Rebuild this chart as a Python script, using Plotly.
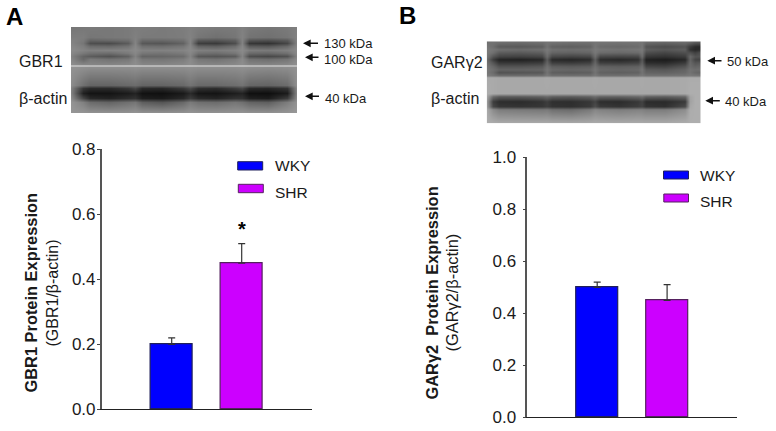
"""Two-panel western blot figure: GBR1 and GARγ2 protein expression."""

import plotly.graph_objects as go

W, H = 776, 431
FONT = "Liberation Sans, Arial, sans-serif"

groups = ["WKY", "SHR"]
bar_colors = ["#0000ff", "#cc00ff"]
bar_edges = ["#20205a", "#55205f"]

gbr1_means = [0.20, 0.45]
gbr1_errs = [0.02, 0.06]
gbr1_ticks = [0.0, 0.2, 0.4, 0.6, 0.8]

garg2_means = [0.50, 0.45]
garg2_errs = [0.02, 0.06]
garg2_ticks = [0.0, 0.2, 0.4, 0.6, 0.8, 1.0]

blot_a_x = [0, 12, 19, 38, 57, 64, 71, 91, 112, 119, 127, 145, 164, 171, 178, 197, 216, 226]
blot_a_y = [0, 10, 13, 16, 19, 23, 26, 29, 32, 38, 40, 58, 61, 66, 71, 75, 86]
blot_a_z = [
    [118, 120, 122, 120, 122, 125, 125, 122, 125, 128, 125, 122, 122, 128, 122, 118, 122, 128],
    [125, 125, 118, 120, 122, 128, 122, 122, 124, 130, 118, 112, 118, 130, 115, 112, 118, 130],
    [130, 122, 100, 105, 110, 130, 105, 105, 112, 132, 88, 85, 95, 130, 85, 80, 90, 132],
    [132, 118, 78, 75, 92, 132, 88, 85, 98, 132, 62, 58, 78, 130, 55, 50, 70, 132],
    [135, 125, 108, 105, 115, 135, 112, 110, 118, 135, 100, 95, 110, 135, 92, 88, 105, 135],
    [138, 132, 128, 130, 132, 138, 130, 130, 132, 138, 128, 125, 130, 138, 125, 122, 128, 138],
    [135, 120, 112, 108, 122, 135, 118, 115, 122, 135, 112, 108, 118, 135, 105, 102, 112, 138],
    [130, 100, 92, 82, 98, 130, 100, 102, 108, 132, 88, 85, 92, 132, 78, 72, 82, 135],
    [135, 105, 122, 115, 120, 138, 120, 118, 125, 138, 120, 115, 125, 138, 115, 110, 118, 140],
    [142, 138, 135, 135, 138, 142, 135, 135, 138, 142, 135, 135, 138, 142, 135, 135, 138, 145],
    [146, 144, 142, 142, 142, 144, 142, 142, 142, 144, 142, 142, 142, 144, 142, 140, 142, 146],
    [140, 112, 100, 100, 105, 108, 100, 100, 105, 115, 105, 105, 110, 115, 102, 100, 108, 145],
    [130, 55, 42, 42, 55, 70, 42, 40, 58, 75, 48, 45, 62, 72, 42, 40, 52, 140],
    [130, 32, 20, 20, 28, 35, 18, 16, 26, 42, 22, 20, 30, 35, 16, 15, 28, 138],
    [138, 70, 40, 34, 45, 50, 30, 26, 40, 60, 42, 36, 50, 50, 32, 28, 60, 142],
    [148, 128, 108, 100, 112, 118, 95, 85, 105, 122, 112, 108, 118, 112, 100, 95, 125, 148],
    [150, 150, 148, 148, 148, 150, 148, 148, 148, 150, 148, 148, 148, 150, 148, 148, 150, 152],
]

blot_b_x = [0, 6, 12, 33, 55, 60, 65, 84, 103, 108, 113, 132, 151, 155, 159, 178, 198, 203, 208, 214]
blot_b_y = [0, 5, 8, 11, 15, 18, 21, 25, 28, 31, 34, 36, 52, 55, 60, 65, 68, 82]
blot_b_z = [
    [112, 115, 115, 112, 115, 118, 118, 115, 115, 118, 118, 118, 118, 118, 112, 108, 112, 110, 100, 95],
    [118, 110, 92, 90, 95, 115, 98, 95, 100, 118, 108, 105, 108, 118, 85, 78, 85, 60, 45, 40],
    [122, 118, 112, 108, 112, 122, 112, 110, 112, 122, 118, 115, 118, 122, 95, 88, 95, 50, 40, 45],
    [122, 112, 92, 90, 95, 118, 100, 98, 102, 120, 108, 105, 108, 118, 78, 70, 80, 80, 65, 80],
    [118, 85, 68, 65, 70, 108, 72, 68, 72, 110, 72, 70, 72, 108, 55, 50, 60, 105, 85, 85],
    [108, 62, 36, 33, 40, 92, 42, 38, 45, 95, 45, 40, 48, 88, 33, 28, 40, 100, 70, 65],
    [112, 85, 55, 55, 60, 100, 62, 58, 65, 102, 62, 60, 66, 95, 45, 42, 58, 105, 85, 90],
    [118, 105, 85, 85, 90, 112, 95, 92, 95, 112, 98, 95, 98, 110, 72, 68, 85, 108, 100, 105],
    [122, 112, 100, 100, 102, 118, 105, 102, 105, 118, 105, 102, 105, 118, 92, 88, 100, 115, 110, 112],
    [120, 108, 82, 85, 88, 115, 95, 92, 95, 115, 98, 95, 98, 115, 100, 98, 105, 115, 105, 100],
    [125, 118, 110, 110, 112, 122, 112, 112, 112, 122, 112, 112, 115, 122, 115, 115, 118, 122, 120, 118],
    [170, 170, 168, 168, 168, 170, 168, 168, 168, 170, 168, 168, 168, 170, 168, 168, 170, 172, 172, 172],
    [174, 170, 168, 168, 168, 168, 168, 168, 168, 168, 168, 168, 168, 168, 168, 168, 170, 174, 174, 174],
    [165, 108, 92, 92, 98, 105, 95, 92, 98, 108, 98, 98, 105, 112, 98, 95, 105, 165, 174, 174],
    [155, 62, 46, 44, 52, 62, 48, 46, 56, 68, 46, 44, 56, 66, 44, 43, 58, 162, 174, 174],
    [158, 72, 55, 52, 55, 62, 52, 48, 58, 78, 58, 52, 62, 68, 52, 48, 75, 168, 174, 174],
    [170, 140, 125, 122, 120, 122, 112, 108, 122, 135, 130, 125, 130, 130, 125, 125, 142, 172, 174, 174],
    [174, 174, 172, 172, 172, 172, 172, 172, 172, 172, 172, 172, 172, 172, 172, 172, 174, 174, 174, 174],
]


def px_x(x):
    return x / W


def px_y(y):
    return 1 - y / H


def label(text, x, y, size, anchor="left", angle=0, bold=False, color="#1a1a1a"):
    # annotations keep about 2px of padding round their text
    left = x - 2 if anchor == "left" else x
    return dict(
        text=f"<b>{text}</b>" if bold else text,
        x=px_x(left),
        y=px_y(y),
        xref="paper",
        yref="paper",
        xanchor=anchor,
        yanchor="middle",
        showarrow=False,
        textangle=angle,
        font=dict(family=FONT, size=size, color=color),
    )


def arrow(x_tip, x_tail, y):
    return dict(
        text="",
        x=px_x(x_tip),
        y=px_y(y),
        xref="paper",
        yref="paper",
        ax=x_tail - x_tip,
        ay=0,
        showarrow=True,
        arrowhead=2,
        arrowsize=1.1,
        arrowwidth=1.4,
        arrowcolor="#111111",
    )


def swatch(x0, x1, y0, y1, fill, edge):
    return dict(
        type="rect",
        xref="paper",
        yref="paper",
        x0=px_x(x0),
        x1=px_x(x1),
        y0=px_y(y0),
        y1=px_y(y1),
        fillcolor=fill,
        line=dict(color=edge, width=1),
    )


fig = go.Figure()

# bar panels
panels = [
    ("x", "y", gbr1_means, gbr1_errs),
    ("x2", "y2", garg2_means, garg2_errs),
]
for xa, ya, means, errs in panels:
    fig.add_trace(
        go.Bar(
            x=groups,
            y=means,
            xaxis=xa,
            yaxis=ya,
            width=0.6,
            marker=dict(color=bar_colors, line=dict(color=bar_edges, width=1.2)),
            error_y=dict(
                type="data",
                array=errs,
                arrayminus=[0, 0],
                symmetric=False,
                color="#333333",
                thickness=1.2,
                width=3.5,
            ),
            showlegend=False,
        )
    )

# blot photographs
blots = [
    ("x3", "y3", blot_a_x, blot_a_y, blot_a_z),
    ("x4", "y4", blot_b_x, blot_b_y, blot_b_z),
]
for xa, ya, bx, by, bz in blots:
    fig.add_trace(
        go.Heatmap(
            x=bx,
            y=by,
            z=bz,
            xaxis=xa,
            yaxis=ya,
            zmin=0,
            zmax=255,
            zsmooth="best",
            colorscale=[[0, "#000000"], [1, "#ffffff"]],
            showscale=False,
            hoverinfo="skip",
        )
    )

y_style = dict(
    tickformat=".1f",
    ticks="outside",
    ticklen=3,
    tickwidth=1.2,
    tickcolor="#444444",
    showline=True,
    linecolor="#555555",
    linewidth=1.5,
    showgrid=False,
    zeroline=False,
    tickfont=dict(family=FONT, size=17, color="#1a1a1a"),
)
x_style = dict(
    type="category",
    range=[-1, 2],
    showticklabels=False,
    ticks="",
    showline=True,
    linecolor="#222222",
    linewidth=1.2,
    showgrid=False,
    zeroline=False,
)
hidden = dict(visible=False, showgrid=False, zeroline=False)

fig.update_layout(
    width=W,
    height=H,
    margin=dict(l=0, r=0, t=0, b=0, autoexpand=False),
    paper_bgcolor="white",
    plot_bgcolor="white",
    autosize=False,
    bargap=0,
    xaxis=dict(x_style, domain=[px_x(101.7), px_x(311.7)], anchor="y"),
    yaxis=dict(
        y_style,
        domain=[px_y(409.3), px_y(149.3)],
        range=[0, 0.8],
        tickvals=gbr1_ticks,
        ticklabelstandoff=-2,
        anchor="x",
    ),
    xaxis2=dict(x_style, domain=[px_x(527.3), px_x(737)], anchor="y2"),
    yaxis2=dict(
        y_style,
        domain=[px_y(417.3), px_y(157.3)],
        range=[0, 1.0],
        tickvals=garg2_ticks,
        ticklabelstandoff=3,
        anchor="x2",
    ),
    xaxis3=dict(hidden, domain=[px_x(71), px_x(297)], range=[0, 226], anchor="y3"),
    yaxis3=dict(hidden, domain=[px_y(113), px_y(27)], range=[86, 0], anchor="x3"),
    xaxis4=dict(hidden, domain=[px_x(486.7), px_x(700.7)], range=[0, 214], anchor="y4"),
    yaxis4=dict(hidden, domain=[px_y(123.3), px_y(41.3)], range=[82, 0], anchor="x4"),
    shapes=[
        swatch(237.7, 262.7, 161.7, 170, bar_colors[0], bar_edges[0]),
        swatch(238.3, 263.3, 184.3, 192.7, bar_colors[1], bar_edges[1]),
        swatch(663.5, 688.5, 171, 179, bar_colors[0], bar_edges[0]),
        swatch(663.8, 688.5, 194, 202, bar_colors[1], bar_edges[1]),
        # seam between the two pasted strips of blot A
        dict(
            type="line",
            xref="paper",
            yref="paper",
            x0=px_x(71),
            x1=px_x(297),
            y0=px_y(66),
            y1=px_y(66),
            line=dict(color="#e4e4e4", width=1.2),
        ),
    ],
    annotations=[
        label("A", 6, 17, 24, bold=True, color="#000000"),
        label("B", 399.5, 15, 24, bold=True, color="#000000"),
        label("GBR1", 19, 62, 16),
        label("β-actin", 19, 98, 16),
        label("GARγ2", 430.5, 62.5, 16),
        label("β-actin", 431, 99, 16),
        arrow(303, 319.5, 43.3),
        arrow(305, 320, 57.3),
        arrow(305, 320.5, 96.3),
        arrow(707.3, 723, 60.7),
        arrow(705.3, 721.3, 100.7),
        label("130 kDa", 323.5, 44, 13),
        label("100 kDa", 323.5, 59.5, 13),
        label("40 kDa", 325, 99, 13),
        label("50 kDa", 727, 62, 13),
        label("40 kDa", 725, 102, 13),
        label("WKY", 275, 165.5, 15.5),
        label("SHR", 275, 192, 15.5),
        label("WKY", 700, 175, 15.5),
        label("SHR", 700, 201.5, 15.5),
        label("*", 241.7, 228.5, 20, anchor="center", bold=True, color="#000000"),
        label("GBR1 Protein Expression", 30.5, 293, 16.4, anchor="center", angle=-90, bold=True),
        label("(GBR1/β-actin)", 51.5, 293, 16, anchor="center", angle=-90),
        label("GARγ2  Protein Expression", 431.5, 293, 16.4, anchor="center", angle=-90, bold=True),
        label("(GARγ2/β-actin)", 451.5, 293, 16.4, anchor="center", angle=-90),
    ],
)

# the page's default body margin would push the figure 8px in
fig.write_html(
    "out.html",
    config={"displayModeBar": False},
    post_script="document.body.style.margin='0';document.body.style.overflow='hidden';",
)
